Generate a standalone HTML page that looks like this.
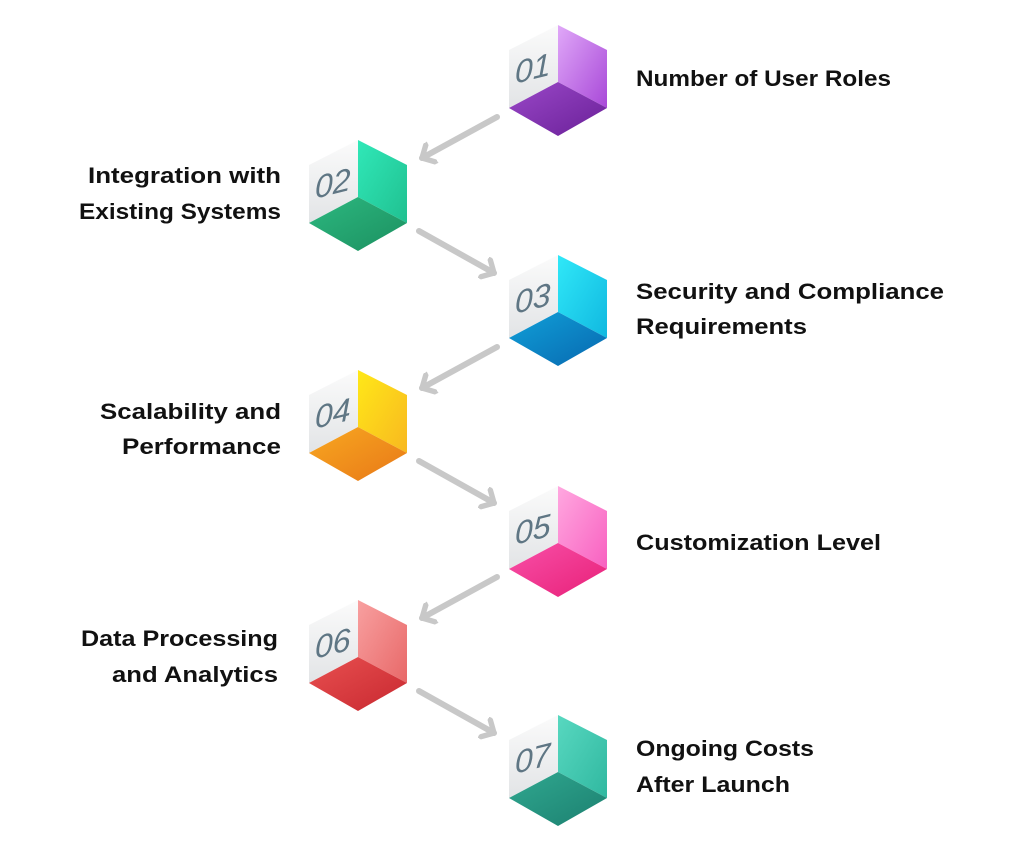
<!DOCTYPE html>
<html><head><meta charset="utf-8"><style>
html,body{margin:0;padding:0;background:#fff}
svg text{font-family:"Liberation Sans",sans-serif;font-weight:bold}
.l{font-size:22px;fill:#111}
.n{font-size:32px;fill:#5f7684;font-style:italic;font-weight:normal}
.w{fill:url(#gw)}
</style></head><body>
<svg width="1024" height="851" viewBox="0 0 1024 851" xmlns="http://www.w3.org/2000/svg">
<defs>
<linearGradient id="gw" x1="0" y1="0" x2="0" y2="1"><stop offset="0" stop-color="#fbfbfb"/><stop offset="1" stop-color="#e2e4e6"/></linearGradient>
<linearGradient id="r1" x1="0" y1="0" x2="1" y2="1"><stop offset="0" stop-color="#e0a8f8"/><stop offset="1" stop-color="#a848d8"/></linearGradient>
<linearGradient id="b1" x1="0" y1="0" x2="1" y2="1"><stop offset="0" stop-color="#9a48c8"/><stop offset="1" stop-color="#6a2098"/></linearGradient>
<linearGradient id="r2" x1="0" y1="0" x2="1" y2="1"><stop offset="0" stop-color="#30e8b8"/><stop offset="1" stop-color="#20c090"/></linearGradient>
<linearGradient id="b2" x1="0" y1="0" x2="1" y2="1"><stop offset="0" stop-color="#2cb880"/><stop offset="1" stop-color="#1c9060"/></linearGradient>
<linearGradient id="r3" x1="0" y1="0" x2="1" y2="1"><stop offset="0" stop-color="#30e8f8"/><stop offset="1" stop-color="#10b8e0"/></linearGradient>
<linearGradient id="b3" x1="0" y1="0" x2="1" y2="1"><stop offset="0" stop-color="#10a0d8"/><stop offset="1" stop-color="#0868b0"/></linearGradient>
<linearGradient id="r4" x1="0" y1="0" x2="1" y2="1"><stop offset="0" stop-color="#ffe818"/><stop offset="1" stop-color="#f8b820"/></linearGradient>
<linearGradient id="b4" x1="0" y1="0" x2="1" y2="1"><stop offset="0" stop-color="#f8a820"/><stop offset="1" stop-color="#e87818"/></linearGradient>
<linearGradient id="r5" x1="0" y1="0" x2="1" y2="1"><stop offset="0" stop-color="#ffa8e0"/><stop offset="1" stop-color="#f860c0"/></linearGradient>
<linearGradient id="b5" x1="0" y1="0" x2="1" y2="1"><stop offset="0" stop-color="#f850a8"/><stop offset="1" stop-color="#e82078"/></linearGradient>
<linearGradient id="r6" x1="0" y1="0" x2="1" y2="1"><stop offset="0" stop-color="#f8a0a0"/><stop offset="1" stop-color="#e86868"/></linearGradient>
<linearGradient id="b6" x1="0" y1="0" x2="1" y2="1"><stop offset="0" stop-color="#e85050"/><stop offset="1" stop-color="#c82830"/></linearGradient>
<linearGradient id="r7" x1="0" y1="0" x2="1" y2="1"><stop offset="0" stop-color="#58d8c0"/><stop offset="1" stop-color="#30b8a0"/></linearGradient>
<linearGradient id="b7" x1="0" y1="0" x2="1" y2="1"><stop offset="0" stop-color="#30a890"/><stop offset="1" stop-color="#1c8070"/></linearGradient>
<marker id="ah" markerWidth="4" markerHeight="4" refX="2" refY="2" orient="auto" markerUnits="strokeWidth">
<path d="M0.3,0.3 L2,2 L0.3,3.7" fill="none" stroke="#c8c8c8" stroke-width="0.9" stroke-linecap="round" stroke-linejoin="round"/></marker>
</defs>
<g stroke="#c8c8c8" stroke-width="6" stroke-linecap="round" fill="none">
<line x1="497" y1="117" x2="422" y2="158" marker-end="url(#ah)"/>
<line x1="419" y1="231" x2="494" y2="273" marker-end="url(#ah)"/>
<line x1="497" y1="347" x2="422" y2="388" marker-end="url(#ah)"/>
<line x1="419" y1="461" x2="494" y2="503" marker-end="url(#ah)"/>
<line x1="497" y1="577" x2="422" y2="618" marker-end="url(#ah)"/>
<line x1="419" y1="691" x2="494" y2="733" marker-end="url(#ah)"/>
</g>
<g>
<g transform="translate(558,25)"><path class="w" d="M0,0 L-49,25 L-49,83 L0,57Z"/><path fill="url(#r1)" d="M0,0 L49,25 L49,83 L0,57Z"/><path fill="url(#b1)" d="M-49,83 L0,57 L49,83 L0,111Z"/><text class="n" x="-43" y="48" transform="skewY(-14)">01</text></g>
<g transform="translate(358,140)"><path class="w" d="M0,0 L-49,25 L-49,83 L0,57Z"/><path fill="url(#r2)" d="M0,0 L49,25 L49,83 L0,57Z"/><path fill="url(#b2)" d="M-49,83 L0,57 L49,83 L0,111Z"/><text class="n" x="-43" y="48" transform="skewY(-14)">02</text></g>
<g transform="translate(558,255)"><path class="w" d="M0,0 L-49,25 L-49,83 L0,57Z"/><path fill="url(#r3)" d="M0,0 L49,25 L49,83 L0,57Z"/><path fill="url(#b3)" d="M-49,83 L0,57 L49,83 L0,111Z"/><text class="n" x="-43" y="48" transform="skewY(-14)">03</text></g>
<g transform="translate(358,370)"><path class="w" d="M0,0 L-49,25 L-49,83 L0,57Z"/><path fill="url(#r4)" d="M0,0 L49,25 L49,83 L0,57Z"/><path fill="url(#b4)" d="M-49,83 L0,57 L49,83 L0,111Z"/><text class="n" x="-43" y="48" transform="skewY(-14)">04</text></g>
<g transform="translate(558,486)"><path class="w" d="M0,0 L-49,25 L-49,83 L0,57Z"/><path fill="url(#r5)" d="M0,0 L49,25 L49,83 L0,57Z"/><path fill="url(#b5)" d="M-49,83 L0,57 L49,83 L0,111Z"/><text class="n" x="-43" y="48" transform="skewY(-14)">05</text></g>
<g transform="translate(358,600)"><path class="w" d="M0,0 L-49,25 L-49,83 L0,57Z"/><path fill="url(#r6)" d="M0,0 L49,25 L49,83 L0,57Z"/><path fill="url(#b6)" d="M-49,83 L0,57 L49,83 L0,111Z"/><text class="n" x="-43" y="48" transform="skewY(-14)">06</text></g>
<g transform="translate(558,715)"><path class="w" d="M0,0 L-49,25 L-49,83 L0,57Z"/><path fill="url(#r7)" d="M0,0 L49,25 L49,83 L0,57Z"/><path fill="url(#b7)" d="M-49,83 L0,57 L49,83 L0,111Z"/><text class="n" x="-43" y="48" transform="skewY(-14)">07</text></g>
</g>
<text class="l" x="636" y="86" textLength="255" lengthAdjust="spacingAndGlyphs">Number of User Roles</text>
<text class="l" x="88" y="183" textLength="193" lengthAdjust="spacingAndGlyphs">Integration with</text>
<text class="l" x="79" y="219" textLength="202" lengthAdjust="spacingAndGlyphs">Existing Systems</text>
<text class="l" x="636" y="299" textLength="308" lengthAdjust="spacingAndGlyphs">Security and Compliance</text>
<text class="l" x="636" y="334" textLength="171" lengthAdjust="spacingAndGlyphs">Requirements</text>
<text class="l" x="100" y="419" textLength="181" lengthAdjust="spacingAndGlyphs">Scalability and</text>
<text class="l" x="122" y="454" textLength="159" lengthAdjust="spacingAndGlyphs">Performance</text>
<text class="l" x="636" y="550" textLength="245" lengthAdjust="spacingAndGlyphs">Customization Level</text>
<text class="l" x="81" y="646" textLength="197" lengthAdjust="spacingAndGlyphs">Data Processing</text>
<text class="l" x="112" y="682" textLength="166" lengthAdjust="spacingAndGlyphs">and Analytics</text>
<text class="l" x="636" y="756" textLength="178" lengthAdjust="spacingAndGlyphs">Ongoing Costs</text>
<text class="l" x="636" y="792" textLength="154" lengthAdjust="spacingAndGlyphs">After Launch</text>
</svg>
</body></html>
